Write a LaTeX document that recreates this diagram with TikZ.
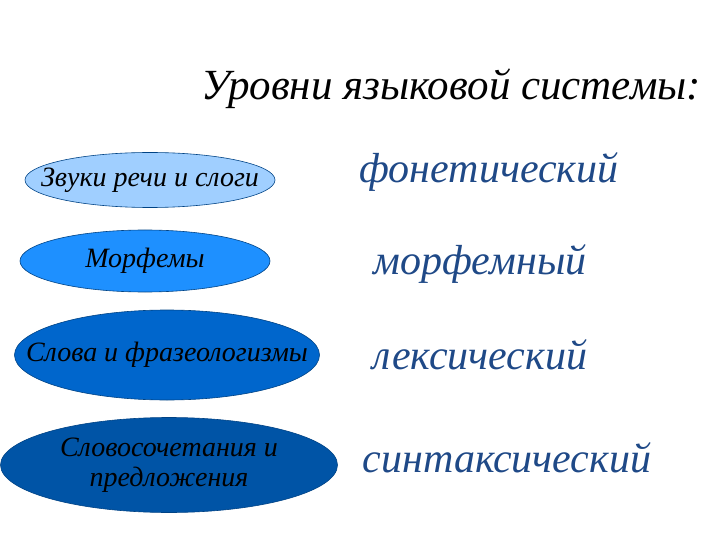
\documentclass[tikz,border=0pt]{standalone}
\usepackage{fontspec}
\setmainfont{Liberation Serif}
\usetikzlibrary{shapes.geometric}
\definecolor{lvlone}{RGB}{160,207,255}
\definecolor{lvltwo}{RGB}{30,144,255}
\definecolor{lvlthree}{RGB}{0,102,204}
\definecolor{lvlfour}{RGB}{0,84,166}
\definecolor{lvltext}{RGB}{31,73,135}
\tikzset{
  unit/.style={ellipse, draw=lvlfour!80!black, line width=0.6pt, inner sep=0pt},
  unittext/.style={align=center, font=\fontsize{28}{30}\selectfont\itshape},
  level/.style={font=\fontsize{42}{46}\selectfont\itshape, text=lvltext}
}
\begin{document}
\begin{tikzpicture}[x=1pt, y=-1pt]
  \useasboundingbox (0,0) rectangle (720,540);
  % Header
  \node (title) [font=\fontsize{43}{46}\selectfont\itshape] at (451, 89) {Уровни языковой системы:};
  % Nodes
  \node (zvuki) [unit, fill=lvlone, minimum width=250pt, minimum height=55pt,
    label={[unittext]center:Звуки речи и слоги}] at (150, 180) {};
  \node (morf) [unit, fill=lvltwo, minimum width=250pt, minimum height=62pt,
    label={[unittext]center:Морфемы}] at (145, 261) {};
  \node (slova) [unit, fill=lvlthree, minimum width=305pt, minimum height=90pt,
    label={[unittext]center:Слова и фразеологизмы}] at (167, 355) {};
  \node (sochet) [unit, fill=lvlfour, minimum width=337pt, minimum height=95pt,
    label={[unittext]center:{Словосочетания и\\предложения}}] at (169, 465) {};
  % Levels
  \node (fon) [level] at (489, 172) {фонетический};
  \node (morfl) [level] at (480, 264) {морфемный};
  \node (leks) [level] at (480, 355) {лексический};
  \node (sint) [level] at (507, 458) {синтаксический};
\end{tikzpicture}
\end{document}
